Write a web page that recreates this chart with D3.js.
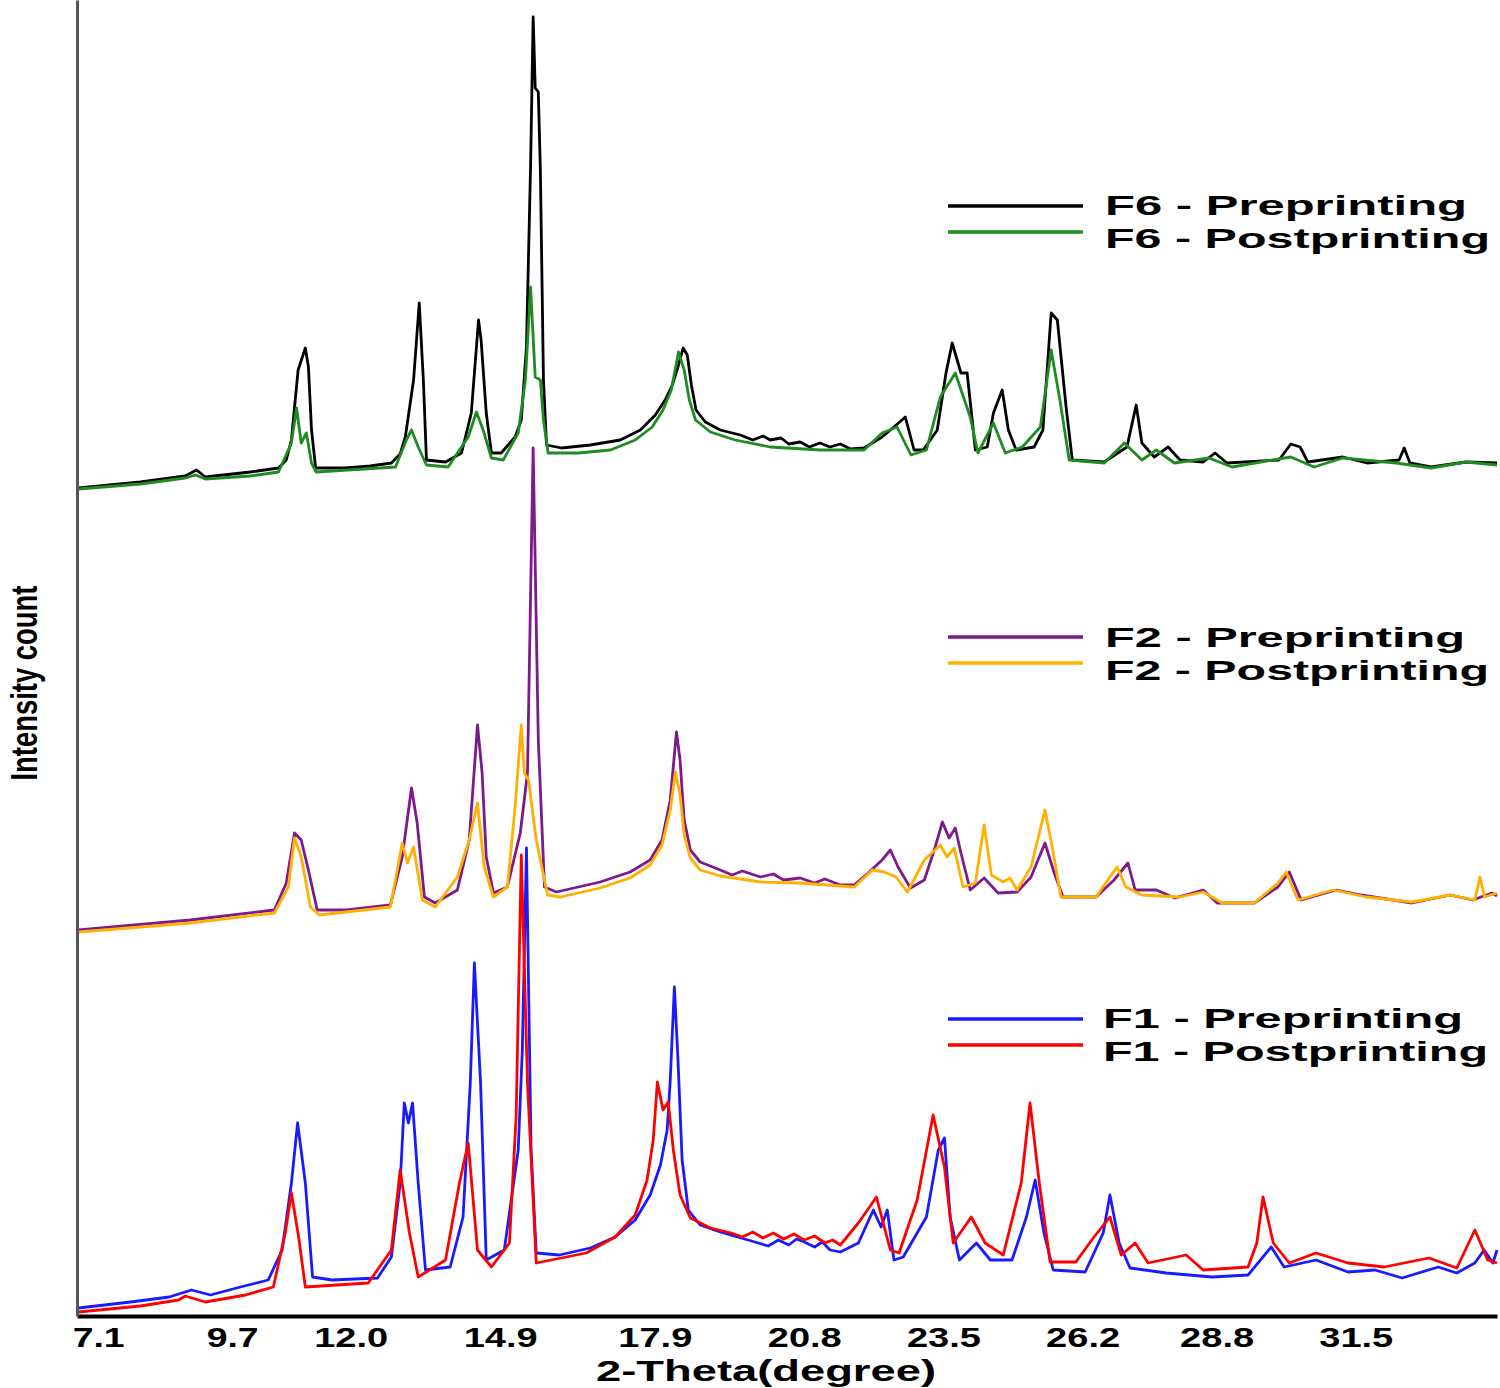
<!DOCTYPE html>
<html>
<head>
<meta charset="utf-8">
<script src="https://cdn.jsdelivr.net/npm/d3@7.9.0/dist/d3.min.js"></script>
<style>
  body { margin: 0; background: #fff; }
  svg { display: block; font-family: "Liberation Sans", Arial, sans-serif; }
</style>
</head>
<body>
<svg id="chart" width="1500" height="1388"></svg>
<script>
// 2-theta (degree) / intensity (a.u., stacked as plotted)
const f6Pre = [[6.72,828],[7.92,834],[8.79,840],[9.01,846],[9.18,839],[10.05,844],[10.60,848],[10.75,856],[10.85,876],[10.98,946],[11.12,968],[11.18,949],[11.24,886],[11.32,848],[11.90,848],[12.38,850],[12.79,853],[12.96,862],[13.06,879],[13.22,936],[13.33,1013],[13.41,936],[13.47,856],[13.84,854],[14.15,863],[14.34,903],[14.48,996],[14.53,976],[14.63,903],[14.73,863],[14.92,863],[15.19,879],[15.31,896],[15.41,969],[15.49,1150],[15.54,1299],[15.58,1228],[15.64,1224],[15.68,1146],[15.74,936],[15.80,871],[16.09,868],[16.65,871],[17.23,876],[17.62,886],[17.91,901],[18.10,916],[18.24,931],[18.36,951],[18.45,968],[18.53,961],[18.61,931],[18.70,906],[18.88,894],[19.17,886],[19.56,881],[19.80,876],[20.00,880],[20.14,876],[20.35,878],[20.50,872],[20.72,874],[20.90,869],[21.10,873],[21.30,869],[21.50,872],[21.70,867],[21.96,868],[22.31,879],[22.54,889],[22.76,899],[22.93,866],[23.11,866],[23.38,886],[23.55,943],[23.67,973],[23.84,943],[23.96,943],[24.12,866],[24.35,869],[24.47,903],[24.64,926],[24.76,886],[24.91,866],[25.26,869],[25.43,886],[25.59,1003],[25.71,996],[25.88,909],[26.00,856],[26.62,854],[27.06,869],[27.24,911],[27.35,873],[27.59,859],[27.86,869],[28.09,856],[28.54,854],[28.77,863],[29.00,853],[30.01,856],[30.24,872],[30.42,869],[30.57,854],[31.25,859],[31.72,853],[32.34,856],[32.44,868],[32.55,853],[32.96,849],[33.64,854],[34.24,853]];
const f6Post = [[6.72,827],[7.92,832],[8.79,838],[8.99,841],[9.18,837],[10.05,840],[10.60,844],[10.85,873],[10.95,908],[11.04,873],[11.14,883],[11.24,853],[11.33,844],[12.87,849],[13.08,876],[13.18,886],[13.31,869],[13.47,851],[13.89,849],[14.28,879],[14.44,904],[14.57,886],[14.73,858],[14.96,856],[15.25,883],[15.39,936],[15.49,1029],[15.58,939],[15.68,936],[15.74,896],[15.83,863],[16.42,863],[17.04,866],[17.52,876],[17.85,889],[18.06,906],[18.22,926],[18.36,964],[18.47,946],[18.57,916],[18.69,896],[18.98,884],[19.46,876],[20.14,869],[21.11,866],[21.96,866],[22.31,883],[22.60,889],[22.87,861],[23.17,866],[23.44,919],[23.73,943],[24.02,899],[24.17,863],[24.47,893],[24.70,863],[25.03,869],[25.38,889],[25.59,966],[25.76,916],[25.94,856],[26.62,853],[27.01,873],[27.35,856],[27.63,866],[27.98,853],[28.65,858],[29.10,849],[30.24,859],[30.69,849],[31.25,858],[32.28,853],[32.96,848],[33.64,854],[34.24,851]];
const f2Pre = [[6.72,386],[8.89,396],[10.52,406],[10.75,433],[10.91,483],[11.04,476],[11.18,446],[11.35,406],[11.92,406],[12.77,411],[13.00,459],[13.18,528],[13.29,493],[13.43,419],[13.64,413],[14.07,426],[14.30,476],[14.46,591],[14.55,543],[14.63,459],[14.77,423],[15.04,429],[15.29,483],[15.43,543],[15.54,868],[15.64,576],[15.76,429],[15.99,424],[16.84,434],[17.42,444],[17.81,456],[18.04,476],[18.20,516],[18.32,584],[18.39,556],[18.47,496],[18.59,466],[18.78,454],[19.17,446],[19.40,441],[19.60,445],[19.95,439],[20.20,442],[20.40,436],[20.72,438],[21.00,433],[21.20,437],[21.50,431],[21.77,431],[22.04,443],[22.31,456],[22.47,466],[22.62,449],[22.86,428],[23.13,436],[23.34,469],[23.48,494],[23.61,478],[23.73,488],[23.84,463],[24.02,426],[24.29,438],[24.56,423],[24.93,424],[25.20,439],[25.47,473],[25.65,443],[25.82,419],[26.46,419],[26.81,436],[27.08,453],[27.22,426],[27.63,426],[27.99,418],[28.54,426],[28.81,413],[29.53,413],[29.99,429],[30.21,444],[30.44,416],[31.12,426],[31.60,421],[32.59,413],[33.33,421],[33.77,416],[34.14,423],[34.24,420]];
const f2Post = [[6.72,384],[8.89,393],[10.52,403],[10.79,429],[10.91,478],[11.04,459],[11.22,409],[11.39,401],[12.77,409],[13.00,473],[13.10,453],[13.22,469],[13.39,416],[13.64,409],[14.07,439],[14.30,476],[14.46,513],[14.59,449],[14.77,419],[15.04,429],[15.19,509],[15.31,591],[15.37,543],[15.45,536],[15.60,476],[15.82,421],[16.07,419],[16.84,428],[17.42,438],[17.81,451],[18.04,471],[18.20,506],[18.30,544],[18.39,521],[18.47,481],[18.59,458],[18.78,446],[19.17,440],[19.95,434],[20.72,433],[21.77,429],[22.12,446],[22.35,444],[22.58,439],[22.80,424],[23.13,456],[23.44,471],[23.57,459],[23.71,468],[23.88,429],[24.12,433],[24.29,491],[24.43,441],[24.66,434],[24.79,438],[24.93,426],[25.20,449],[25.47,506],[25.61,469],[25.78,419],[26.46,419],[26.73,439],[26.87,449],[27.04,429],[27.35,421],[28.09,419],[28.54,424],[28.91,413],[29.53,413],[29.99,433],[30.15,444],[30.38,416],[31.06,426],[31.70,419],[32.59,414],[33.33,421],[33.81,416],[33.91,439],[34.00,419],[34.24,423]];
const f1Pre = [[6.72,8],[7.73,14],[8.48,19],[8.91,26],[9.28,21],[9.86,29],[10.40,36],[10.67,66],[10.85,133],[10.97,193],[11.12,133],[11.26,39],[11.64,36],[12.52,38],[12.79,59],[12.96,133],[13.04,213],[13.12,193],[13.20,213],[13.31,133],[13.45,46],[13.93,49],[14.18,99],[14.32,233],[14.40,353],[14.52,233],[14.63,56],[14.98,66],[15.25,166],[15.33,266],[15.41,468],[15.50,166],[15.60,63],[16.05,61],[16.65,68],[17.13,79],[17.52,96],[17.81,121],[18.01,151],[18.14,186],[18.20,236],[18.28,329],[18.35,256],[18.43,156],[18.55,106],[18.78,91],[19.17,84],[19.91,73],[20.10,70],[20.30,76],[20.50,71],[20.65,77],[20.80,74],[21.00,69],[21.15,74],[21.30,66],[21.50,64],[21.85,73],[22.14,106],[22.29,89],[22.41,106],[22.54,56],[22.72,59],[23.17,99],[23.40,166],[23.52,178],[23.63,99],[23.81,56],[24.14,73],[24.41,56],[24.83,56],[25.11,99],[25.28,136],[25.45,83],[25.63,46],[26.25,44],[26.60,83],[26.73,121],[26.91,73],[27.12,48],[27.82,43],[28.71,39],[29.41,41],[29.86,69],[30.11,49],[30.73,56],[31.35,44],[31.87,46],[32.40,38],[33.10,49],[33.46,43],[33.81,53],[33.99,66],[34.16,53],[34.24,66]];
const f1Post = [[6.72,4],[7.92,10],[8.66,16],[8.79,20],[9.18,14],[9.96,21],[10.50,29],[10.73,83],[10.85,123],[10.99,79],[11.12,29],[12.34,33],[12.79,66],[12.96,146],[13.14,83],[13.31,39],[13.84,56],[14.11,133],[14.28,173],[14.46,66],[14.73,49],[15.08,73],[15.21,200],[15.31,461],[15.43,233],[15.60,53],[16.57,63],[17.13,79],[17.52,101],[17.75,136],[17.87,176],[17.95,234],[18.06,206],[18.16,214],[18.26,166],[18.39,121],[18.59,98],[18.98,88],[19.38,83],[19.60,79],[19.80,84],[20.00,78],[20.20,83],[20.40,77],[20.60,82],[20.80,76],[21.00,80],[21.20,73],[21.35,76],[21.50,71],[21.85,93],[22.20,119],[22.47,66],[22.64,63],[22.99,116],[23.30,201],[23.52,149],[23.69,73],[24.04,99],[24.31,73],[24.66,61],[25.01,133],[25.18,213],[25.36,133],[25.57,54],[26.07,54],[26.42,79],[26.73,99],[26.95,61],[27.22,73],[27.47,53],[28.21,61],[28.54,46],[29.41,49],[29.58,73],[29.70,119],[29.90,73],[30.21,53],[30.73,63],[31.35,53],[32.05,49],[32.92,58],[33.46,48],[33.81,86],[34.06,56],[34.24,53]];

const tickValues = [7.1, 9.7, 12.0, 14.9, 17.9, 20.8, 23.5, 26.2, 28.8, 31.5];
const tickLabels = ['7.1', '9.7', '12.0', '14.9', '17.9', '20.8', '23.5', '26.2', '28.8', '31.5'];

const seriesNames = ['F6 - Preprinting', 'F6 - Postprinting', 'F2 - Preprinting', 'F2 - Postprinting', 'F1 - Preprinting', 'F1 - Postprinting'];
const seriesColors = ['#000000', '#1e8c1e', '#7d1a8c', '#ffb000', '#1a1aff', '#ff0000'];
const seriesData = [f6Pre, f6Post, f2Pre, f2Post, f1Pre, f1Post];

const svg = d3.select('#chart');
const W = 1500, H = 1388;
const plotLeft = 77, plotRight = 1497, plotTop = 0, plotBottom = 1316;

const x = d3.scaleLinear().domain([6.69, 34.24]).range([plotLeft, plotRight]);
const y = d3.scaleLinear().domain([0, 1316]).range([plotBottom, plotTop]);

svg.append('rect').attr('width', W).attr('height', H).attr('fill', '#fff');

const line = d3.line().x(d => x(d[0])).y(d => y(d[1]));

seriesData.forEach((data, i) => {
  svg.append('path')
    .datum(data)
    .attr('d', line)
    .attr('fill', 'none')
    .attr('stroke', seriesColors[i])
    .attr('stroke-width', 2.8)
    .attr('stroke-linejoin', 'round');
});

// axes
const xAxis = svg.append('g').attr('transform', `translate(0,${plotBottom})`)
  .call(d3.axisBottom(x).tickValues(tickValues).tickSize(0).tickPadding(0)
    .tickFormat((d, i) => tickLabels[i]));
xAxis.select('.domain').attr('stroke', '#000').attr('stroke-width', 4);
xAxis.selectAll('text')
  .attr('y', 31).attr('dy', 0)
  .attr('fill', '#000')
  .style('font-size', '27px').style('font-weight', 'bold')
  .attr('textLength', (d, i) => tickLabels[i].length === 3 ? 52 : 74)
  .attr('lengthAdjust', 'spacingAndGlyphs');

const yAxis = svg.append('g').attr('transform', `translate(${plotLeft},0)`)
  .call(d3.axisLeft(y).tickValues([]).tickSize(0));
yAxis.select('.domain').attr('stroke', '#555').attr('stroke-width', 3);

svg.append('text')
  .attr('x', 596).attr('y', 1381)
  .attr('textLength', 340).attr('lengthAdjust', 'spacingAndGlyphs')
  .style('font-size', '29px').style('font-weight', 'bold')
  .text('2-Theta(degree)');

svg.append('text')
  .attr('transform', 'translate(37,683) rotate(-90)')
  .attr('text-anchor', 'middle')
  .attr('textLength', 195).attr('lengthAdjust', 'spacingAndGlyphs')
  .style('font-size', '37px').style('font-weight', 'bold')
  .text('Intensity count');

// legends
const legendRows = [
  { lineY: 206, textY: 215, tx: 1105, len: [362, 385] },
  { lineY: 637, textY: 647, tx: 1105, len: [360, 384] },
  { lineY: 1019, textY: 1028, tx: 1103, len: [360, 385] }
];
legendRows.forEach((r, k) => {
  [0, 1].forEach(j => {
    const idx = k * 2 + j;
    const ly = r.lineY + j * 26;
    svg.append('line')
      .attr('x1', 948).attr('x2', 1083).attr('y1', ly).attr('y2', ly)
      .attr('stroke', seriesColors[idx]).attr('stroke-width', 3.5);
    svg.append('text')
      .attr('x', r.tx).attr('y', r.textY + j * 33)
      .attr('textLength', r.len[j]).attr('lengthAdjust', 'spacingAndGlyphs')
      .style('font-size', '28px').style('font-weight', 'bold')
      .text(seriesNames[idx]);
  });
});
</script>
</body>
</html>
